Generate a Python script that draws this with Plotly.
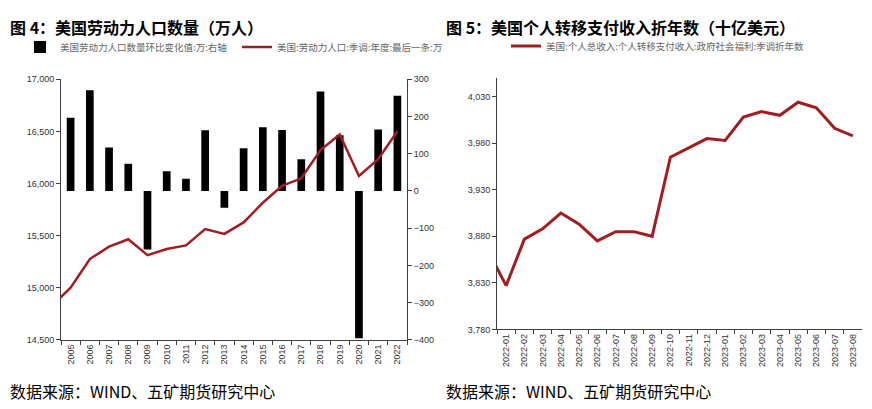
import plotly.graph_objects as go

# 图4 数据
years = [str(y) for y in range(2004, 2023)]
labor_force = [14820, 15000, 15275, 15394, 15465, 15313, 15372, 15406, 15562, 15517,
               15627, 15816, 15979, 16050, 16321, 16471, 16072, 16234, 16502]
labor_change = [197, 271, 117, 73, -157, 53, 33, 163, -45,
                115, 171, 164, 85, 267, 150, -396, 165, 256]

# 图5 数据
months = ["2021-12"] + [f"2022-{m:02d}" for m in range(1, 13)] + [f"2023-{m:02d}" for m in range(1, 9)]
transfer_income = [3865, 3827, 3877, 3888, 3905, 3893, 3875, 3885, 3885, 3880, 3965,
                   3975, 3985, 3983, 4008, 4014, 4010, 4024, 4018, 3996, 3988]

W, H = 872, 409
RED = "#A11D21"
AX = "#404040"
CJK = "Noto Sans CJK SC"
tickfont = dict(family="Liberation Sans", size=9, color="#333333")

fig = go.Figure()
fig.add_trace(go.Bar(
    x=years[1:], y=labor_change, name="美国劳动力人口数量环比变化值:万:右轴",
    marker=dict(color="black", line=dict(width=0)), xaxis="x", yaxis="y", legend="legend",
))
fig.add_trace(go.Scatter(
    x=years, y=labor_force, mode="lines", name="美国:劳动力人口:季调:年度:最后一条:万",
    line=dict(color=RED, width=2.5), xaxis="x", yaxis="y2", legend="legend",
))
fig.add_trace(go.Scatter(
    x=months, y=transfer_income, mode="lines",
    name="美国:个人总收入:个人转移支付收入:政府社会福利:季调折年数",
    line=dict(color=RED, width=3), xaxis="x2", yaxis="y3", legend="legend2",
))

axis_common = dict(showline=True, linecolor=AX, linewidth=1, showgrid=False, zeroline=False,
                   ticks="outside", tickcolor=AX, ticklen=4, tickfont=tickfont)

legend_font = dict(family=CJK, size=9.5, color="#666666")

fig.update_layout(
    width=W, height=H, margin=dict(l=0, r=0, t=0, b=0),
    paper_bgcolor="white", plot_bgcolor="white",
    bargap=0.6,
    xaxis=dict(**axis_common, domain=[53 / W, 399 / W], anchor="y2", type="category",
               categoryorder="array", categoryarray=years, range=[0.5, 18.5],
               tickson="boundaries", tickangle=-90),
    yaxis=dict(**axis_common, domain=[1 - 335 / H, 1 - 68 / H], anchor="x", side="right",
               range=[-400, 300], dtick=100),
    yaxis2=dict(**axis_common, overlaying="y", anchor="x", side="left",
                range=[14500, 17000], dtick=500, tickformat=","),
    xaxis2=dict(**axis_common, domain=[489 / W, 854 / W], anchor="y3", type="category",
                categoryorder="array", categoryarray=months, range=[0.5, 20.5],
                tickson="boundaries", tickangle=-90),
    yaxis3=dict(**axis_common, domain=[1 - 324.3 / H, 1 - 66.7 / H], anchor="x2",
                range=[3780, 4050], tickvals=[3780, 3830, 3880, 3930, 3980, 4030], tickformat=","),
    legend=dict(orientation="h", x=12 / W, y=1 - 20 / H, xanchor="left", yanchor="top",
                font=legend_font, bgcolor="rgba(0,0,0,0)", itemwidth=30, tracegroupgap=0,
                entrywidthmode="pixels", entrywidth=172),
    legend2=dict(orientation="h", x=498 / W, y=1 - 19 / H, xanchor="left", yanchor="top",
                 font=legend_font, bgcolor="rgba(0,0,0,0)", itemwidth=30),
    showlegend=True,
)

titles = [(0, "图 4：美国劳动力人口数量（万人）"), (436, "图 5：美国个人转移支付收入折年数（十亿美元）")]
for x0, t in titles:
    fig.add_annotation(x=x0 / W, y=1 - 14 / H, xref="paper", yref="paper", xanchor="left",
                       yanchor="middle", showarrow=False, text=f"<b>{t}</b>",
                       font=dict(family=CJK, size=16, color="black"))
for x0 in (0, 436):
    fig.add_annotation(x=x0 / W, y=1 - 387 / H, xref="paper", yref="paper", xanchor="left",
                       yanchor="middle", showarrow=False, text="数据来源：WIND、五矿期货研究中心",
                       font=dict(family=CJK, size=16, color="black"))

fig.write_html("out.html")
